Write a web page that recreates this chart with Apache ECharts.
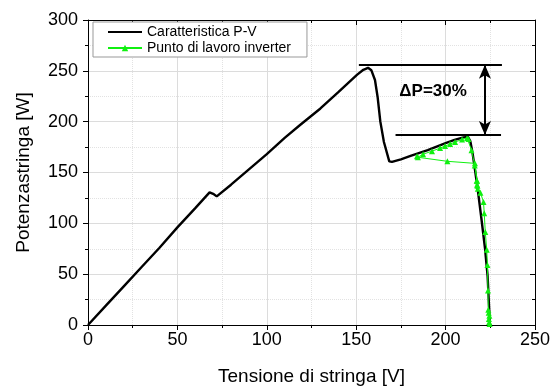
<!DOCTYPE html>
<html>
<head>
  <meta charset="utf-8">
  <title>Caratteristica P-V</title>
  <script src="https://cdn.jsdelivr.net/npm/echarts@6/dist/echarts.min.js"></script>
  <style>
    html, body { margin: 0; padding: 0; background: #fff; }
    #chart { width: 559px; height: 392px; }
  </style>
</head>
<body>
<div id="chart"></div>
<script type="text/javascript">
// curva P-V della stringa (tensione [V], potenza [W])
var pvVolt = [0, 10, 20, 30, 40, 50, 60, 68, 70, 72, 80, 90, 100, 110, 118.6, 130, 140, 150.4, 154, 156.6,
              158.5, 160.5, 162, 163.5, 165.5, 168.5, 170, 175, 180, 185, 190, 195, 200, 205, 210, 212.5,
              213.8, 215, 216.5, 218, 220, 222, 223.5, 224.8];
var pvPow  = [0, 19, 38, 57, 76, 96, 115, 130.5, 129, 126.5, 138, 153, 168, 184, 196.7, 213, 229, 246, 251, 253,
              250.5, 241, 224, 200, 180, 161, 160.5, 163, 166, 169, 172, 175.5, 179, 182, 184.5, 185,
              181, 170, 152, 133, 105, 76, 48, 0];

// punti di lavoro dell'inverter (MPPT)
var invVolt = [224.6, 224.4, 224.2, 224.5, 224.1, 223.9, 223.7, 223.4, 223.0, 222.2, 221.6, 221.2, 219.5,
               218.0, 217.6, 217.4, 217.8, 216.4, 201, 184.5, 184, 187.4, 192.4, 196.9, 199.7, 202.5,
               205.3, 209.2, 212, 212.8, 214.5, 216.3, 217.6];
var invPow  = [1, 3, 6, 9, 12, 15, 34, 59, 74, 91.5, 110, 121, 130, 134, 138, 142, 137, 159, 161, 165, 166,
               168, 171, 174, 176, 178, 180, 182.5, 184, 183, 172, 157, 142];

// annotazione delta P
var pMax = 256, pLoc = 187;
var deltaLabel = '\u0394P=30%';

var pvData = [], invData = [];
for (var i = 0; i < pvVolt.length; i++) pvData.push([pvVolt[i], pvPow[i]]);
for (var j = 0; j < invVolt.length; j++) invData.push([invVolt[j], invPow[j]]);

var font = "'Liberation Sans', Arial, sans-serif";
var chart = echarts.init(document.getElementById('chart'), null, {renderer: 'canvas'});

function frameAxis(pos, max) {
  return {
    type: 'value', position: pos, min: 0, max: max, interval: 50,
    axisLine: {show: true, onZero: false, lineStyle: {color: '#000', width: 1}},
    axisTick: {show: true, inside: true, length: 5, lineStyle: {color: '#000'}},
    minorTick: {show: true, splitNumber: 2, length: 3, lineStyle: {color: '#000'}},
    axisLabel: {show: false},
    splitLine: {show: false}
  };
}

chart.setOption({
  animation: false,
  textStyle: {fontFamily: font},
  grid: {left: 88, right: 24, top: 20, bottom: 67},
  legend: {
    orient: 'vertical',
    left: 93, top: 22,
    padding: [3, 16, 2, 14],
    itemGap: 2,
    itemWidth: 34, itemHeight: 8,
    borderColor: '#999', borderWidth: 1,
    backgroundColor: '#fff',
    textStyle: {fontSize: 14, color: '#000', fontFamily: font},
    data: [
      {name: 'Caratteristica P-V', itemStyle: {color: 'rgba(0,0,0,0)', borderWidth: 0}},
      {name: 'Punto di lavoro inverter'}
    ]
  },
  xAxis: [{
    type: 'value', min: 0, max: 250, interval: 50,
    name: 'Tensione di stringa [V]', nameLocation: 'middle', nameGap: 42,
    nameTextStyle: {fontSize: 19, color: '#000'},
    axisLine: {show: true, onZero: false, lineStyle: {color: '#000', width: 1}},
    axisTick: {show: true, length: 5, lineStyle: {color: '#000'}},
    minorTick: {show: true, splitNumber: 2, length: 3, lineStyle: {color: '#000'}},
    axisLabel: {fontSize: 18, color: '#000', margin: 6},
    splitLine: {show: true, lineStyle: {color: '#dcdcdc', width: 1}},
    minorSplitLine: {show: true, lineStyle: {color: '#e2e2e2', type: 'dotted', width: 1}}
  }, frameAxis('top', 250)],
  yAxis: [{
    type: 'value', min: 0, max: 300, interval: 50,
    name: 'Potenzastringa [W]', nameLocation: 'middle', nameGap: 55,
    nameTextStyle: {fontSize: 19, color: '#000'},
    axisLine: {show: true, onZero: false, lineStyle: {color: '#000', width: 1}},
    axisTick: {show: true, length: 5, lineStyle: {color: '#000'}},
    minorTick: {show: true, splitNumber: 2, length: 3, lineStyle: {color: '#000'}},
    axisLabel: {fontSize: 18, color: '#000', margin: 10},
    splitLine: {show: true, lineStyle: {color: '#dcdcdc', width: 1}},
    minorSplitLine: {show: true, lineStyle: {color: '#e2e2e2', type: 'dotted', width: 1}}
  }, frameAxis('right', 300)],
  series: [
    {
      name: 'Caratteristica P-V',
      type: 'line',
      data: pvData,
      symbol: 'none',
      lineStyle: {color: '#000', width: 2.4},
      itemStyle: {color: '#000'},
      z: 2
    },
    {
      name: 'Punto di lavoro inverter',
      type: 'line',
      data: invData,
      symbol: 'triangle',
      symbolSize: 6,
      lineStyle: {color: '#10f010', width: 1},
      itemStyle: {color: '#10f010'},
      z: 3
    },
    {
      name: 'annotazione',
      type: 'line',
      data: [],
      silent: true,
      markLine: {
        silent: true,
        symbol: ['none', 'none'],
        label: {show: false},
        lineStyle: {color: '#000', width: 2, type: 'solid'},
        data: [
          [{coord: [151.5, pMax]}, {coord: [231.5, pMax]}],
          [{coord: [172, pLoc]}, {coord: [231, pLoc]}],
          [{coord: [222, pMax], symbol: 'arrow', symbolSize: [9, 14]},
           {coord: [222, pLoc], symbol: 'arrow', symbolSize: [9, 14]}]
        ]
      },
      markPoint: {
        silent: true,
        symbol: 'rect', symbolSize: 1,
        itemStyle: {color: 'rgba(0,0,0,0)'},
        label: {show: true, position: 'inside', formatter: deltaLabel,
                fontSize: 17, fontWeight: 'bold', color: '#000', fontFamily: font},
        data: [{coord: [193, 229.5]}]
      }
    }
  ]
});
</script>
</body>
</html>
